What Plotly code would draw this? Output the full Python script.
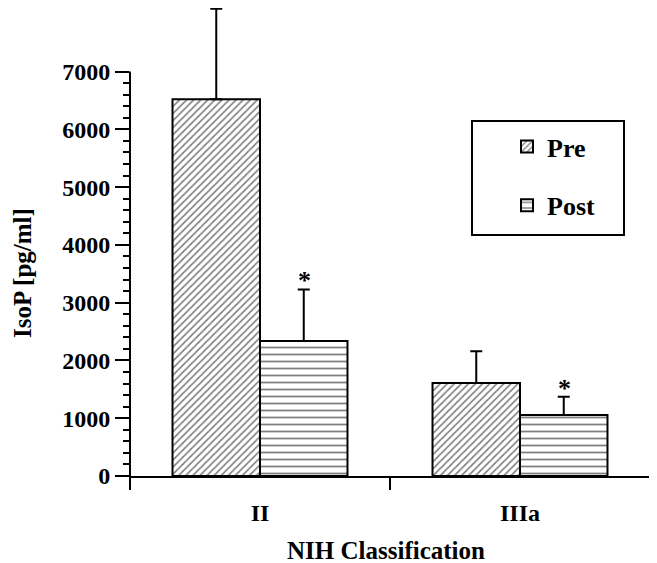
import plotly.graph_objects as go

categories = ["II", "IIIa"]
series_names = ["Pre", "Post"]
pre_values = [6520, 1610]
pre_errors = [1565, 550]
post_values = [2335, 1055]
post_errors = [895, 315]
y_tick_values = [0, 1000, 2000, 3000, 4000, 5000, 6000, 7000]
y_tick_labels = ["0", "1000", "2000", "3000", "4000", "5000", "6000", "7000"]
minor_tick_values = [v for v in range(200, 7000, 200) if v % 1000 != 0]

FONT = "Liberation Serif"
# the page body adds an 8px offset; plot area is placed so it lands at the reference position
H = 468.0  # plot-area height in px (bottom edge = value 0)
BOT = 476  # page y of value 0
LEFT = 130
W = 520.0


def py(page_y):
    return (BOT - page_y) / H


def px(page_x):
    return (page_x - LEFT) / W


fig = go.Figure()
fig.add_trace(go.Bar(
    name=series_names[0], x=categories, y=pre_values,
    marker=dict(color="white", line=dict(color="black", width=2),
                pattern=dict(shape="/", size=5, solidity=0.33, fgcolor="black", bgcolor="white")),
    error_y=dict(type="data", array=pre_errors, arrayminus=[0, 0], symmetric=False,
                 color="black", thickness=2, width=6),
    legendgroup="a",
))
fig.add_trace(go.Bar(
    name=series_names[1], x=categories, y=post_values,
    marker=dict(color="white", line=dict(color="black", width=2),
                pattern=dict(shape="-", size=7, solidity=0.25, fgcolor="black", bgcolor="white")),
    error_y=dict(type="data", array=post_errors, arrayminus=[0, 0], symmetric=False,
                 color="black", thickness=2, width=6),
    legendgroup="b",
))

# significance asterisks above Post error bars
for c, v, e in zip(categories, post_values, post_errors):
    fig.add_annotation(x=c, y=v + e, xref="x", yref="y", text="<b>*</b>", showarrow=False,
                       xshift=44, yanchor="bottom", yshift=-8,
                       font=dict(family=FONT, size=26, color="black"))

shapes = []
# y-axis line
shapes.append(dict(type="line", xref="x domain", yref="y", x0=0, x1=0, y0=0, y1=7000,
                   line=dict(color="black", width=2)))
# x-axis category boundary ticks (downward)
for xd in [0, 0.5, 1]:
    shapes.append(dict(type="line", xref="x domain", yref="y domain", x0=xd, x1=xd, y0=0, y1=-14 / H,
                       line=dict(color="black", width=2)))
# legend frame
shapes.append(dict(type="rect", xref="paper", yref="paper",
                   x0=px(472), x1=px(624), y0=py(235), y1=py(121),
                   line=dict(color="black", width=2), fillcolor="rgba(0,0,0,0)"))

fig.update_layout(
    width=657, height=563,
    margin=dict(l=122, r=15, t=0, b=563 - 468),
    paper_bgcolor="white", plot_bgcolor="white",
    barmode="group", bargap=0.327, bargroupgap=0,
    font=dict(family=FONT, color="black"),
    showlegend=True,
    legend=dict(x=px(507), y=py(123), xanchor="left", yanchor="top",
                bgcolor="rgba(0,0,0,0)", borderwidth=0, tracegroupgap=22,
                font=dict(family=FONT, size=26, color="black"), traceorder="grouped"),
    shapes=shapes,
    xaxis=dict(showline=True, linecolor="black", linewidth=2, ticks="", showgrid=False,
               zeroline=False, tickfont=dict(family=FONT, size=24, color="black"),
               ticklabelstandoff=14, range=[-0.5, 1.5], automargin=False),
    yaxis=dict(range=[0, 8100], showline=False, showgrid=False, zeroline=False, automargin=False,
               tickmode="array", tickvals=y_tick_values,
               ticktext=["<b>%s</b>" % t for t in y_tick_labels],
               ticks="outside", ticklen=14, tickwidth=2, tickcolor="black",
               tickfont=dict(family=FONT, size=24, color="black"),
               minor=dict(tickmode="array", tickvals=minor_tick_values, ticks="outside",
                          ticklen=6, tickwidth=2, tickcolor="black", showgrid=False)),
)
fig.update_xaxes(tickmode="array", tickvals=categories, ticktext=["<b>%s</b>" % c for c in categories])
fig.for_each_trace(lambda t: t.update(name="<b>%s</b>" % t.name))

fig.add_annotation(x=px(22), y=py(273), xref="paper", yref="paper", xanchor="center", yanchor="middle",
                   text="<b>IsoP [pg/ml]</b>", textangle=-90, showarrow=False,
                   font=dict(family=FONT, size=25, color="black"))
fig.add_annotation(x=px(386), y=py(550), xref="paper", yref="paper", xanchor="center", yanchor="middle",
                   text="<b>NIH Classification</b>", showarrow=False,
                   font=dict(family=FONT, size=25, color="black"))

fig.write_html("out.html")
